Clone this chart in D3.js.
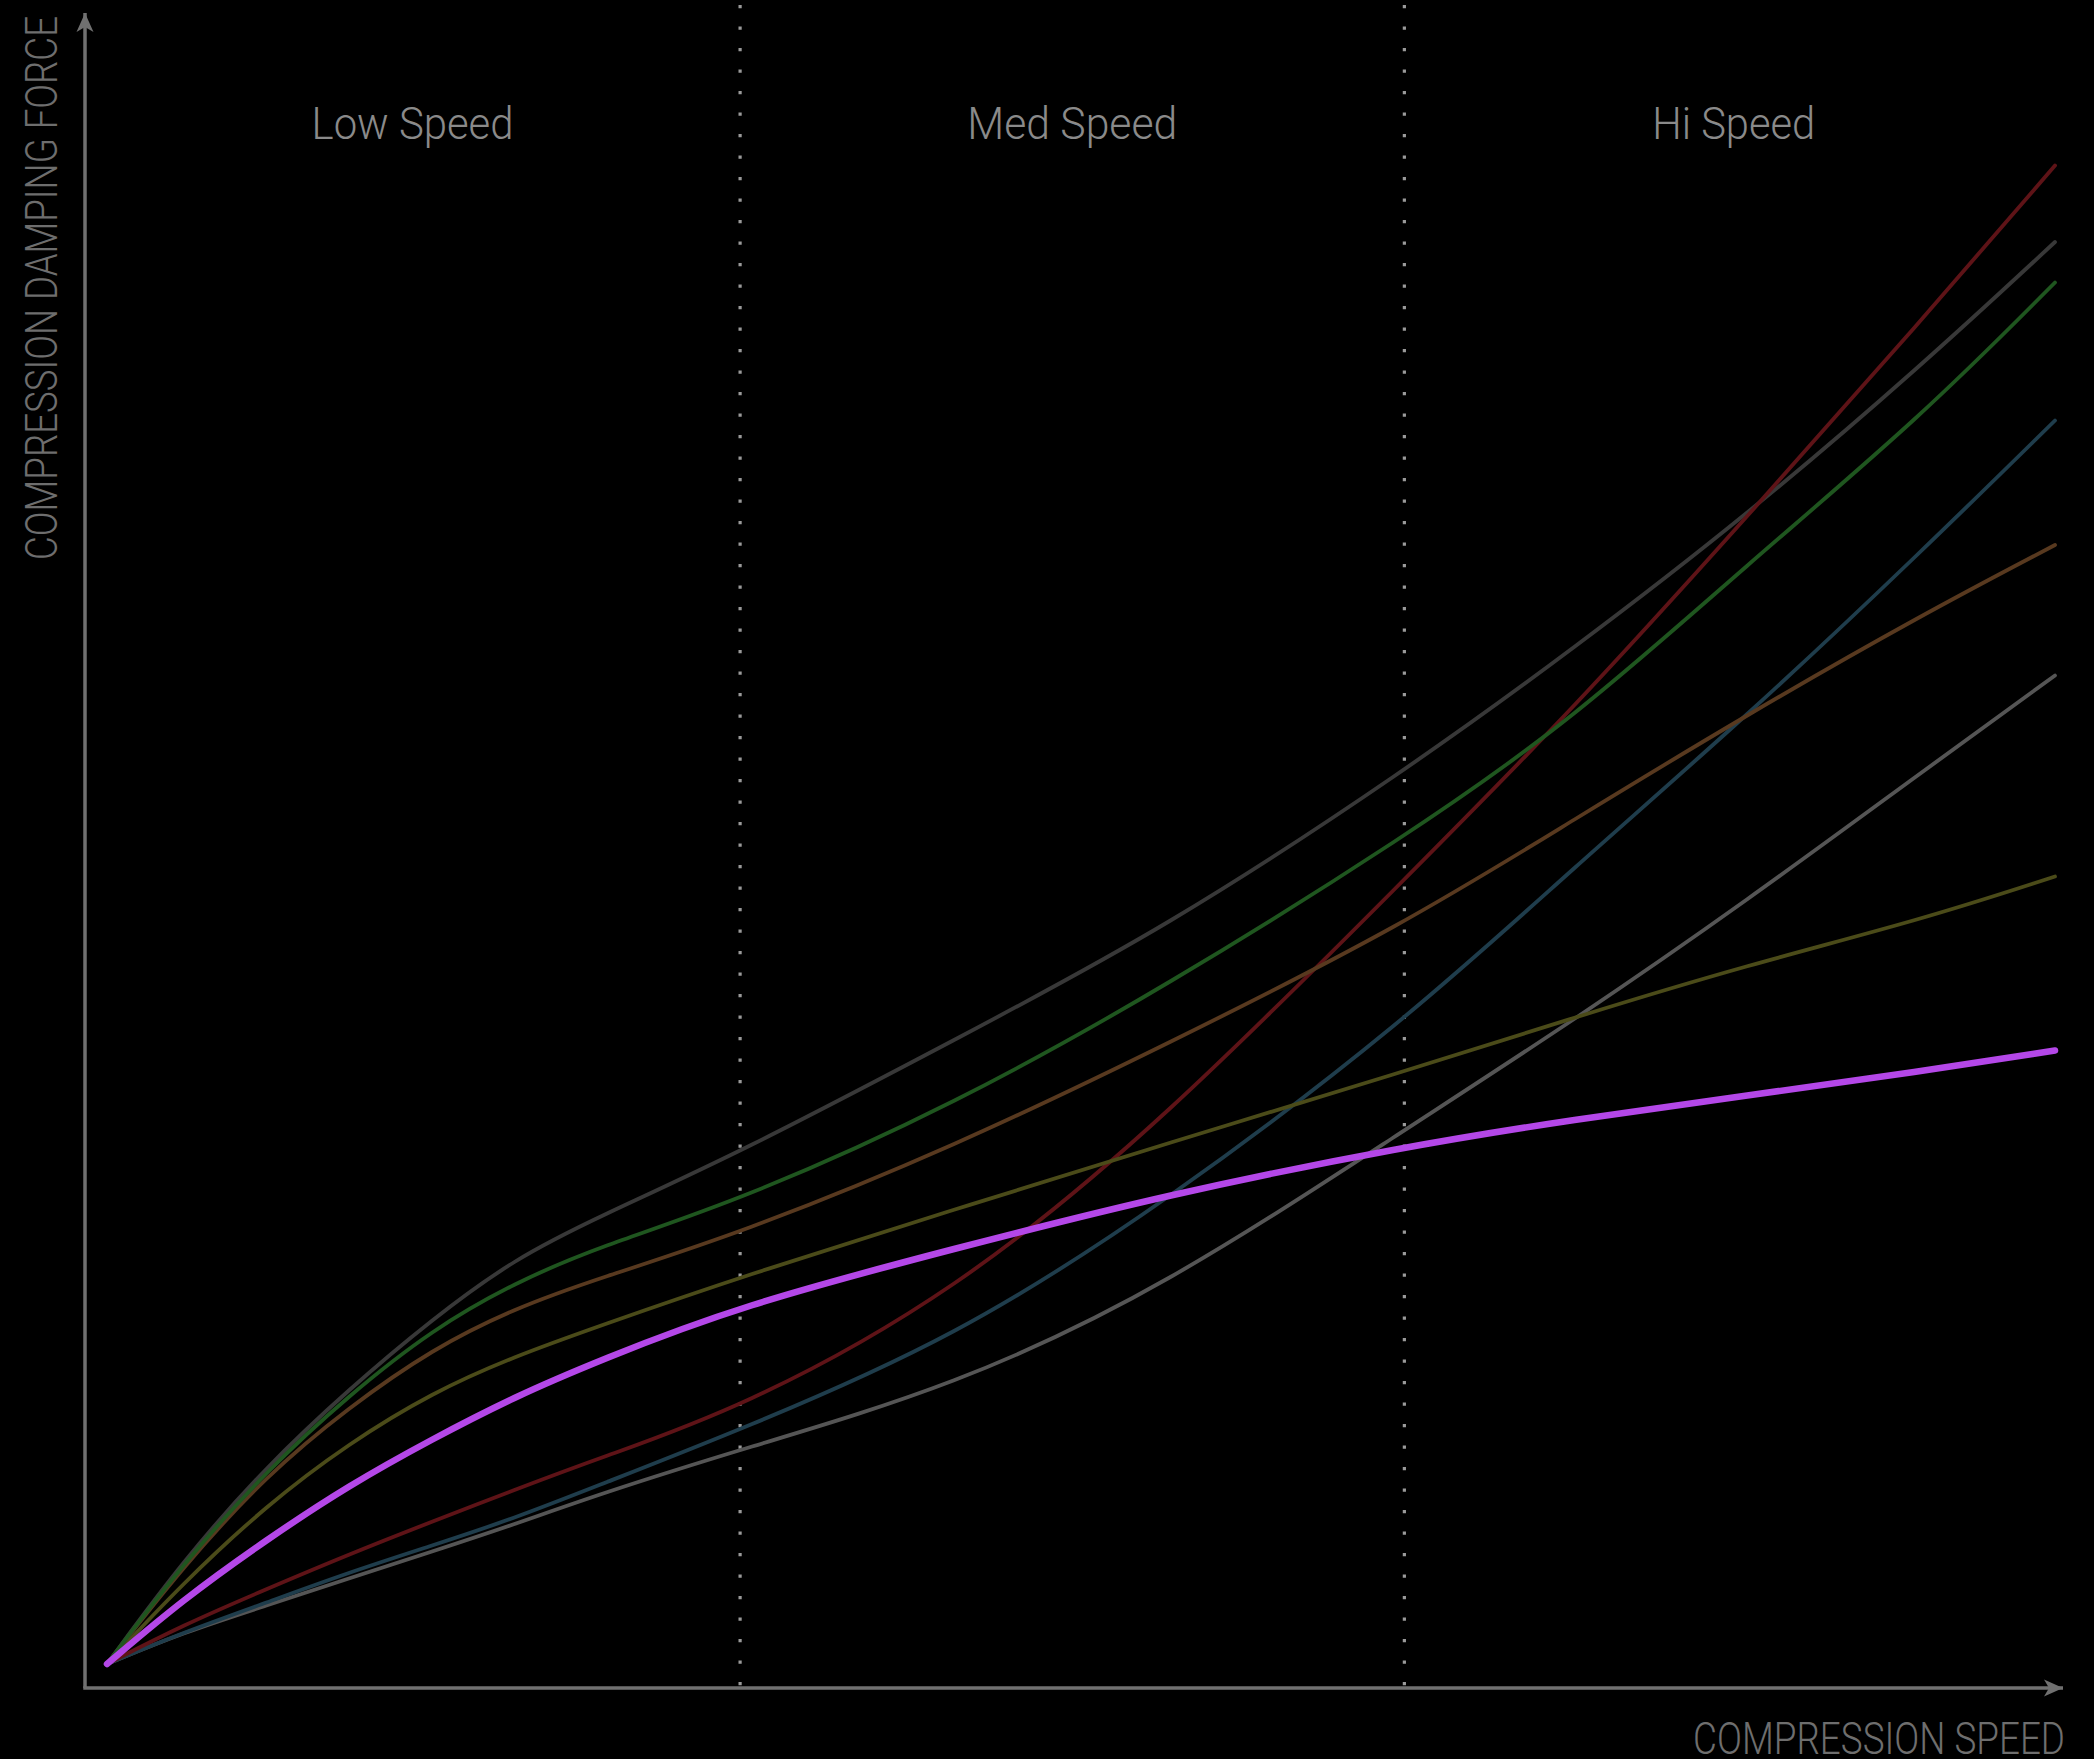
<!DOCTYPE html>
<html>
<head>
<meta charset="utf-8">
<script src="https://cdn.jsdelivr.net/npm/d3@7"></script>
<style>
  html, body { margin: 0; padding: 0; background: #000; }
  svg { display: block; }
  text { font-family: Roboto, "Noto Sans", sans-serif; font-weight: 300; }
</style>
</head>
<body>
<svg id="chart" width="2094" height="1759"></svg>
<script>
// ---- data (arbitrary units 0..100) ----
const speeds = [0, 3.9, 8.2, 12.4, 16.7, 20.9, 25.2, 32.5, 43.5, 54.4, 66.6, 75.3, 84.2, 93.1, 100];

const darkGray  = [0, 6.9, 13.2, 18.3, 23.0, 27.0, 29.8, 34.1, 41.6, 49.1, 59.5, 67.7, 76.6, 86.5, 94.8];
const green     = [0, 6.7, 12.9, 17.9, 22.3, 25.4, 27.8, 30.9, 37.3, 45.2, 55.1, 63.0, 73.3, 83.1, 92.1];
const brown     = [0, 6.5, 12.6, 17.1, 21.0, 23.7, 25.7, 28.7, 34.5, 41.3, 49.3, 56.3, 63.3, 69.9, 74.6];
const olive     = [0, 5.4, 10.6, 14.7, 18.1, 20.5, 22.5, 25.8, 30.3, 34.7, 39.5, 43.1, 46.6, 49.6, 52.5];
const red       = [0, 2.6, 5.0, 7.3, 9.5, 11.6, 13.7, 17.0, 24.7, 36.4, 52.3, 63.7, 76.5, 89.5, 99.9];
const teal      = [0, 2.1, 4.1, 6.1, 7.9, 9.7, 11.9, 15.6, 21.7, 30.8, 42.8, 53.1, 63.2, 74.1, 82.9];
const lightGray = [0, 2.1, 3.9, 5.7, 7.5, 9.3, 11.3, 14.3, 18.5, 25.2, 35.6, 42.9, 50.9, 59.4, 65.9];
const purple    = [0, 4.3, 8.3, 11.9, 15.0, 17.8, 20.2, 23.9, 27.7, 31.3, 34.5, 36.3, 37.9, 39.5, 40.9];

const zoneBounds = [32.5, 66.6];
const zoneLabels = ["Low Speed", "Med Speed", "Hi Speed"];
const yLabel = "COMPRESSION DAMPING FORCE";
const xLabel = "COMPRESSION SPEED";

// ---- layout ----
const width = 2094, height = 1759;
const axisX0 = 85, axisY0 = 1688, axisTop = 13, axisRight = 2063;
const axisColor = "#707070";

const svg = d3.select("#chart");
svg.append("rect").attr("width", width).attr("height", height).attr("fill", "#000");

const xScale = d3.scaleLinear().domain([0, 100]).range([107, 2055]);
const yScale = d3.scaleLinear().domain([0, 100]).range([1664, 164]);

// arrowhead marker
svg.append("defs").append("marker")
  .attr("id", "arrow")
  .attr("viewBox", "-20 -10 22 20")
  .attr("refX", 0).attr("refY", 0)
  .attr("markerUnits", "userSpaceOnUse")
  .attr("markerWidth", 22).attr("markerHeight", 20)
  .attr("orient", "auto")
  .append("path")
  .attr("d", "M0,0 L-19,-8.5 L-14,0 L-19,8.5 Z")
  .attr("fill", axisColor);

// dotted zone separators
svg.selectAll(".sep").data(zoneBounds).join("line")
  .attr("class", "sep")
  .attr("x1", d => xScale(d)).attr("x2", d => xScale(d))
  .attr("y1", 5).attr("y2", axisY0)
  .attr("stroke", "#9a9a9a")
  .attr("stroke-width", 3.2)
  .attr("stroke-dasharray", "3.2 18.3");

// axes
svg.append("line")
  .attr("x1", axisX0).attr("y1", axisY0).attr("x2", axisX0).attr("y2", axisTop)
  .attr("stroke", axisColor).attr("stroke-width", 3.5)
  .attr("marker-end", "url(#arrow)");
svg.append("line")
  .attr("x1", axisX0 - 1.75).attr("y1", axisY0).attr("x2", axisRight).attr("y2", axisY0)
  .attr("stroke", axisColor).attr("stroke-width", 3.5)
  .attr("marker-end", "url(#arrow)");

// curves
const series = [
  { name: "darkGray",  values: darkGray,  color: "#383838", w: 3.8 },
  { name: "lightGray", values: lightGray, color: "#555555", w: 3.8 },
  { name: "teal",      values: teal,      color: "#1f3d4c", w: 3.8 },
  { name: "red",       values: red,       color: "#5e1317", w: 3.8 },
  { name: "olive",     values: olive,     color: "#4b4b19", w: 3.8 },
  { name: "brown",     values: brown,     color: "#58391f", w: 3.8 },
  { name: "green",     values: green,     color: "#1f561f", w: 3.8 },
  { name: "purple",    values: purple,    color: "#b447e8", w: 6.5 }
];

const line = d3.line()
  .x((d, i) => xScale(speeds[i]))
  .y(d => yScale(d))
  .curve(d3.curveBasis);

svg.selectAll(".curve").data(series).join("path")
  .attr("class", "curve")
  .attr("d", d => line(d.values))
  .attr("fill", "none")
  .attr("stroke", d => d.color)
  .attr("stroke-width", d => d.w)
  .attr("stroke-linecap", "round");

// zone labels, centred in each zone
const edges = [axisX0, ...zoneBounds.map(xScale), axisRight];
const labelWidths = [202, 210, 163];
svg.selectAll(".zone").data(zoneLabels).join("text")
  .attr("class", "zone")
  .attr("x", (d, i) => (edges[i] + edges[i + 1]) / 2)
  .attr("y", 139)
  .attr("text-anchor", "middle")
  .attr("font-size", 44)
  .attr("fill", "#8a8a8a")
  .attr("textLength", (d, i) => labelWidths[i])
  .attr("lengthAdjust", "spacingAndGlyphs")
  .text(d => d);

// axis titles
svg.append("text")
  .attr("transform", "translate(57,560) rotate(-90)")
  .attr("font-size", 44)
  .attr("fill", "#6e6e6e")
  .attr("textLength", 544)
  .attr("lengthAdjust", "spacingAndGlyphs")
  .text(yLabel);

svg.append("text")
  .attr("x", 2065).attr("y", 1754)
  .attr("text-anchor", "end")
  .attr("font-size", 44)
  .attr("fill", "#6e6e6e")
  .attr("textLength", 372)
  .attr("lengthAdjust", "spacingAndGlyphs")
  .text(xLabel);
</script>
</body>
</html>
